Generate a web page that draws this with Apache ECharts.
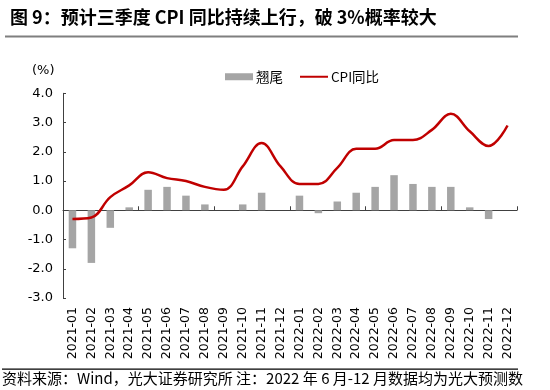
<!DOCTYPE html>
<html><head><meta charset="utf-8">
<script src="https://cdn.jsdelivr.net/npm/echarts@6/dist/echarts.min.js"></script>
<style>html,body{margin:0;padding:0;background:#fff}#c{width:550px;height:390px}</style>
</head><body><div id="c"></div>
<script>
var categories = ['2021-01','2021-02','2021-03','2021-04','2021-05','2021-06','2021-07','2021-08','2021-09','2021-10','2021-11','2021-12',
  '2022-01','2022-02','2022-03','2022-04','2022-05','2022-06','2022-07','2022-08','2022-09','2022-10','2022-11','2022-12'];
var tailValues = [-1.3,-1.8,-0.6,0.1,0.7,0.8,0.5,0.2,0,0.2,0.6,0,
  0.5,-0.1,0.3,0.6,0.8,1.2,0.9,0.8,0.8,0.1,-0.3,0];
var cpiValues = [-0.3,-0.25,0.45,0.85,1.3,1.1,1.0,0.8,0.7,1.5,2.3,1.5,
  0.9,0.9,1.45,2.1,2.1,2.4,2.4,2.75,3.3,2.7,2.2,2.9];
var yTicks = [-3,-2,-1,0,1,2,3,4];

var chart = echarts.init(document.getElementById('c'), null, {renderer:'canvas'});
var cjk = '"Noto Sans CJK SC", "DejaVu Sans", sans-serif';
var num = '"DejaVu Sans", "Noto Sans CJK SC", sans-serif';
chart.setOption({
  animation: false,
  backgroundColor: '#fff',
  title: {
    text: '图 9：预计三季度 CPI 同比持续上行，破 3%概率较大',
    left: 5, top: 3,
    textStyle: {fontFamily: cjk, fontSize: 18, fontWeight: 'bold', color: '#000'}
  },
  graphic: [
    {type:'rect', shape:{x:5, y:35.5, width:513, height:2}, style:{fill:'#7f7f7f'}},
    {type:'rect', shape:{x:2, y:368.5, width:516, height:1.2}, style:{fill:'#000'}},
    {type:'text', left: 2, top: 371, style:{text:'资料来源：Wind，光大证券研究所 注：2022 年 6 月-12 月数据均为光大预测数', font:'15px "Noto Sans CJK SC", sans-serif', fill:'#000'}},
    {type:'text', left: 32, top: 64, style:{text:'(%)', font:'13px "DejaVu Sans", sans-serif', fill:'#000'}}
  ],
  legend: {
    top: 65, left: 220,
    itemWidth: 28, itemHeight: 7, itemGap: 16,
    textStyle: {fontFamily: cjk, fontSize: 13.5, color: '#000', padding:[0,0,0,-2]},
    data: [{name:'翘尾', icon:'rect'},
           {name:'CPI同比', itemStyle:{color:'rgba(0,0,0,0)', borderWidth:0, opacity:0}}]
  },
  grid: {left: 63, right: 33, top: 93.3, bottom: 92, containLabel: false},
  xAxis: [
    {type:'category', data: categories, boundaryGap: true,
     axisLine: {onZero: true, lineStyle:{color:'#404040', width:1}},
     axisTick: {show:true, inside:true, length:4, alignWithLabel:false, lineStyle:{color:'#404040'}},
     axisLabel: {show:false}, splitLine:{show:false}},
    {type:'category', data: categories, boundaryGap: true, position:'bottom',
     axisLine: {show:false, onZero:false}, axisTick:{show:false},
     axisLabel: {show:true, rotate:90, interval:0, margin:9, fontFamily: num, fontSize: 12.5, color:'#000'},
     splitLine:{show:false}}
  ],
  yAxis: {
    type:'value', min: yTicks[0], max: yTicks[yTicks.length-1], interval: 1,
    axisLine: {show:true, lineStyle:{color:'#404040', width:1}},
    axisTick: {show:true, inside:true, length:3, lineStyle:{color:'#404040'}},
    axisLabel: {margin: 10, fontFamily: num, fontSize: 13, color:'#000', formatter: function(v){return v.toFixed(1);}},
    splitLine: {show:false}
  },
  series: [
    {name:'翘尾', type:'bar', xAxisIndex:0, data: tailValues, barWidth: 7.5, itemStyle:{color:'#a5a5a5'}},
    {name:'CPI同比', type:'line', xAxisIndex:0, data: cpiValues, smooth: 0.4, symbol:'none',
     lineStyle:{color:'#c00000', width:2.5}, itemStyle:{color:'#c00000'}}
  ]
});
</script></body></html>
